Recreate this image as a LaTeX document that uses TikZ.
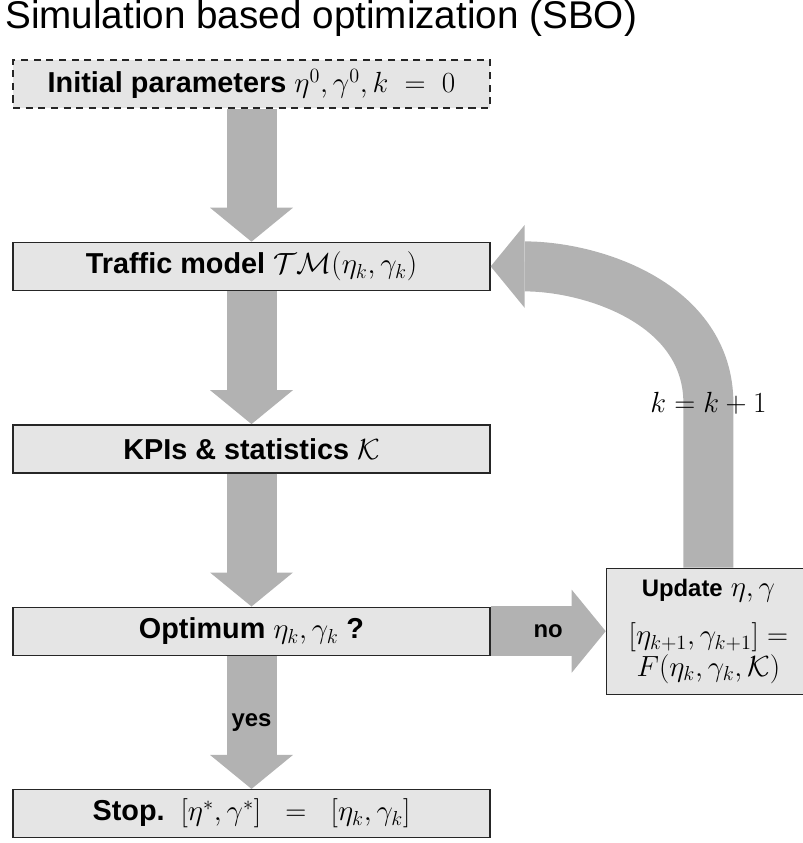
\documentclass[tikz,border=0pt]{standalone}
\usepackage{fontspec}
\setsansfont{Liberation Sans}
\usetikzlibrary{positioning,arrows.meta}

\tikzset{
	stage/.style={draw=black!85, line width=1pt, fill=black!10, minimum width=11.925cm, minimum height=1.2cm, inner sep=0pt, font=\sffamily\bfseries\fontsize{20.5}{24.6}\selectfont},
	flow/.style={draw=black!30, line width=1.25cm, -{Triangle[length=0.85cm, width=2.075cm, line width=0pt]}},
	lbl/.style={font=\sffamily\bfseries\fontsize{17}{20}\selectfont},
}

\begin{document}
\begin{tikzpicture}
	\useasboundingbox (0,0) rectangle (20.05,21.075);
	\node[anchor=base west, inner sep=0pt, font=\sffamily\fontsize{27.5}{33}\selectfont] (title) at (0.125,20.35) {Simulation based optimization (SBO)};
	\node[stage, dash pattern=on 5pt off 4pt] (init) at (6.2875,18.975) {Initial parameters $\eta^0,\gamma^0,k\;=\;0$};
	\node[stage] (tm) [below=3.325cm of init] {Traffic model $\mathcal{TM}(\eta_k,\gamma_k)$};
	\node[stage] (kpi) [below=3.325cm of tm] {KPIs \& statistics $\mathcal{K}$};
	\node[stage] (opt) [below=3.325cm of kpi] {Optimum $\eta_k,\gamma_k$ ?};
	\node[stage] (stop) [below=3.325cm of opt] {Stop.\ \ $[\eta^*,\gamma^*]\;\;=\;\;[\eta_k,\gamma_k]$};
	\node[stage, minimum width=5.1cm, minimum height=3.15cm, align=center] (upd) [right=2.875cm of opt] {{\fontsize{17}{20}\selectfont Update} $\eta,\gamma$\\[10pt] \mdseries$[\eta_{k+1},\gamma_{k+1}] =$\\[-2pt] $F(\eta_k,\gamma_k,\mathcal{K})$};
	\draw[flow] (init) -- (tm);
	\draw[flow] (tm) -- (kpi);
	\draw[flow] (kpi) -- (opt);
	\draw[flow] (opt) -- node[lbl] {yes} (stop);
	\draw[flow] (opt) -- node[lbl] {no} (upd);
	\draw[flow] (upd.north) -- ++(0,4.1) node[font=\fontsize{20.5}{24.6}\selectfont] {$k=k+1$} to[out=90, in=0] (tm.east);
\end{tikzpicture}
\end{document}
